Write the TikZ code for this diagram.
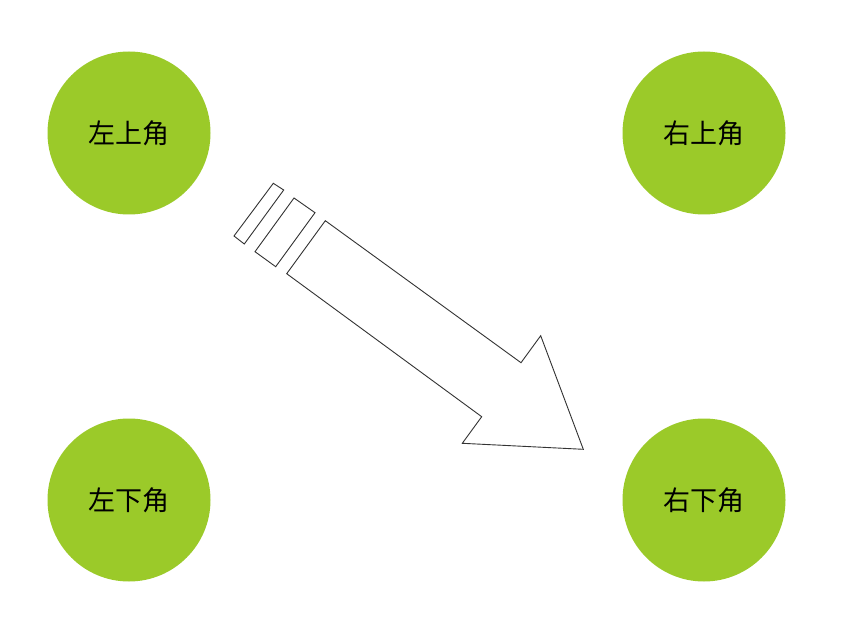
\documentclass[tikz,border=0pt]{standalone}
\usepackage{fontspec}
\newfontfamily\cjk{Noto Sans CJK SC}[FakeStretch=1.0]
\definecolor{leaf}{RGB}{155,202,41}
\begin{document}
\begin{tikzpicture}[x=1pt,y=-1pt,
  corner/.style={circle,fill=leaf,minimum size=163pt,inner sep=0pt,font=\cjk\fontsize{27}{32}\selectfont,text=black},
  outl/.style={draw=black!80,line width=0.9pt,line join=miter}]
\useasboundingbox[fill=white] (0,0) rectangle (848,628);
\node[corner] (tl) at (129,133) {左上角};
\node[corner] (tr) at (704,133) {右上角};
\node[corner] (bl) at (129,500) {左下角};
\node[corner] (br) at (704,500) {右下角};
\draw[outl] (273.3,183.3) -- (283.7,190) -- (244.3,244) -- (234,236) -- cycle;
\draw[outl] (294,198) -- (315,212.7) -- (275.7,266.7) -- (255,251.7) -- cycle;
\draw[outl] (325.3,220.7) -- (521,362.7) -- (540.7,335.7) -- (583.3,449.3) -- (462.3,443.3) -- (481.7,416.7) -- (286.7,273.7) -- cycle;
\end{tikzpicture}
\end{document}
